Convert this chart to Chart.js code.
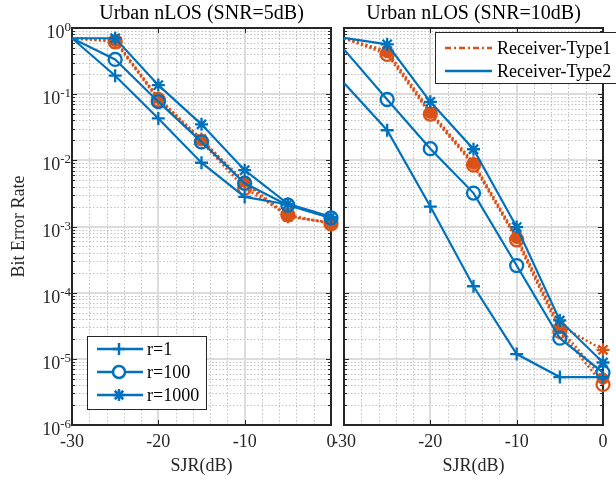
<!DOCTYPE html>
<html>
<head>
<meta charset="utf-8">
<script src="https://cdn.jsdelivr.net/npm/chart.js@4"></script>
<style>
  body { margin: 0; background: #fff; }
  #wrap { position: relative; width: 616px; height: 482px; overflow: hidden; }
  #wrap canvas { position: absolute; top: 0; }
</style>
</head>
<body>
<div id="wrap">
  <canvas id="snr5" width="340" height="482" style="left:0"></canvas>
  <canvas id="snr10" width="296" height="482" style="left:320px"></canvas>
</div>
<script>
// ── data ────────────────────────────────────────────────────────────────────
const sjr = [-30, -25, -20, -15, -10, -5, 0];
const xTickVals = [-30, -20, -10, 0];
const yExponents = [0, -1, -2, -3, -4, -5, -6];
const rLabels = ['r=1', 'r=100', 'r=1000'];
const receiverLabels = ['Receiver-Type1', 'Receiver-Type2'];
const panelTitles = ['Urban nLOS (SNR=5dB)', 'Urban nLOS (SNR=10dB)'];

// SNR = 5 dB
const type2R1Snr5    = [0.70, 0.19,  0.043, 0.0092, 0.0028, 0.00215, 0.00135];
const type2R100Snr5  = [0.70, 0.335, 0.077, 0.019,  0.0045, 0.0021,  0.00135];
const type2R1000Snr5 = [0.70, 0.70,  0.137, 0.035,  0.0071, 0.0022,  0.0014];
const type1R1Snr5    = [0.70, 0.64,  0.088, 0.020,  0.0048, 0.00145, 0.00112];
const type1R100Snr5  = [0.70, 0.62,  0.082, 0.019,  0.0038, 0.0015,  0.0011];
const type1R1000Snr5 = [0.70, 0.66,  0.085, 0.021,  0.0045, 0.0014,  0.00115];

// SNR = 10 dB
const type2R1Snr10    = [0.148, 0.0285, 0.0020, 1.25e-4, 1.18e-5, 5.3e-6, 5.3e-6];
const type2R100Snr10  = [0.475, 0.083,  0.015,  0.0032,  2.57e-4, 2.05e-5, 6.2e-6];
const type2R1000Snr10 = [0.71,  0.566,  0.0765, 0.0147,  9.8e-4,  3.8e-5,  8.8e-6];
const type1R1Snr10    = [0.70,  0.43,   0.052,  0.0089,  6.7e-4,  2.9e-5,  5.0e-6];
const type1R100Snr10  = [0.70,  0.40,   0.050,  0.0085,  6.3e-4,  2.6e-5,  4.1e-6];
const type1R1000Snr10 = [0.70,  0.45,   0.055,  0.0092,  7.0e-4,  3.2e-5,  1.37e-5];

// ── styling ─────────────────────────────────────────────────────────────────
const BLUE = '#0072BD';
const ORANGE = '#D95319';
const INK = '#262626';
const FONT = '"Liberation Serif", "Times New Roman", serif';

function series(values, color, style, filled, dotted) {
    return {
        data: sjr.map((s, i) => ({ x: s, y: values[i] })),
        borderColor: color,
        backgroundColor: color,
        borderWidth: dotted ? 2.5 : 2.2,
        borderDash: dotted ? [2, 2.5] : [],
        pointStyle: style,
        pointRadius: sjr.map((s, i) => i === 0 ? 0 : (style === 'circle' && filled ? 5 : 6.5)),
        pointBorderWidth: 2.3,
        pointBorderColor: color,
        pointBackgroundColor: filled ? color : 'rgba(0,0,0,0)',
        tension: 0,
        clip: false
    };
}

// draws grid, box, ticks, labels, title and legend with the chart's own scales
function framePlugin(opts) {
    return {
        id: 'frame',
        beforeDatasetsDraw(chart) {
            const { ctx, chartArea: a, scales: { x, y } } = chart;
            ctx.save();
            // minor grid (dotted)
            ctx.strokeStyle = '#c2c2c2';
            ctx.lineWidth = 1;
            ctx.setLineDash([1.5, 2]);
            ctx.beginPath();
            for (let e = -6; e < 0; e++) {
                for (let m = 2; m <= 9; m++) {
                    const py = Math.round(y.getPixelForValue(m * Math.pow(10, e))) + 0.5;
                    ctx.moveTo(a.left, py); ctx.lineTo(a.right, py);
                }
            }
            for (let v = -28; v < 0; v += 2) {
                if (v % 10 === 0) continue;
                const px = Math.round(x.getPixelForValue(v)) + 0.5;
                ctx.moveTo(px, a.top); ctx.lineTo(px, a.bottom);
            }
            ctx.stroke();
            // major grid
            ctx.setLineDash([]);
            ctx.strokeStyle = '#dcdcdc';
            ctx.lineWidth = 2;
            ctx.beginPath();
            yExponents.forEach(e => {
                const py = Math.round(y.getPixelForValue(Math.pow(10, e)));
                ctx.moveTo(a.left, py); ctx.lineTo(a.right, py);
            });
            xTickVals.forEach(v => {
                const px = Math.round(x.getPixelForValue(v));
                ctx.moveTo(px, a.top); ctx.lineTo(px, a.bottom);
            });
            ctx.stroke();

            // ticks (inward)
            ctx.strokeStyle = INK;
            ctx.lineWidth = 1;
            ctx.beginPath();
            for (let e = -6; e <= 0; e++) {
                for (let m = 1; m <= 9; m++) {
                    const v = m * Math.pow(10, e);
                    if (v > 1) break;
                    const py = Math.round(y.getPixelForValue(v)) + 0.5;
                    const len = m === 1 ? 5 : 3;
                    ctx.moveTo(a.left, py); ctx.lineTo(a.left + len, py);
                    ctx.moveTo(a.right, py); ctx.lineTo(a.right - len, py);
                }
            }
            xTickVals.forEach(v => {
                const px = Math.round(x.getPixelForValue(v)) + 0.5;
                ctx.moveTo(px, a.bottom); ctx.lineTo(px, a.bottom - 5);
                ctx.moveTo(px, a.top); ctx.lineTo(px, a.top + 5);
            });
            ctx.stroke();

            // box
            ctx.lineWidth = 2;
            ctx.strokeRect(a.left, a.top, a.right - a.left, a.bottom - a.top);

            // text
            ctx.fillStyle = INK;
            ctx.textBaseline = 'alphabetic';
            ctx.textAlign = 'center';
            ctx.font = '18px ' + FONT;
            xTickVals.forEach(v => {
                ctx.fillText(String(v), x.getPixelForValue(v), 447);
            });
            ctx.fillText('SJR(dB)', (a.left + a.right) / 2, 471);

            ctx.fillStyle = '#000';
            ctx.font = '20px ' + FONT;
            ctx.fillText(opts.title, (a.left + a.right) / 2, 19);

            if (opts.yLabels) {
                ctx.fillStyle = INK;
                yExponents.forEach(e => {
                    const py = y.getPixelForValue(Math.pow(10, e));
                    const expText = e === 0 ? '0' : '-' + (-e);
                    ctx.font = '13px ' + FONT;
                    const wExp = ctx.measureText(expText).width;
                    ctx.font = '18px ' + FONT;
                    const wBase = ctx.measureText('10').width;
                    const right = a.left - 1;
                    ctx.textAlign = 'left';
                    ctx.fillText('10', right - wExp - wBase, py + 10);
                    ctx.font = '13px ' + FONT;
                    ctx.fillText(expText, right - wExp, py + 3);
                });
                ctx.save();
                ctx.font = '18px ' + FONT;
                ctx.textAlign = 'center';
                ctx.translate(24, (a.top + a.bottom) / 2);
                ctx.rotate(-Math.PI / 2);
                ctx.fillText('Bit Error Rate', 0, 0);
                ctx.restore();
            }
            ctx.restore();
        },
        afterDraw(chart) {
            const ctx = chart.ctx;
            const lg = opts.legend;
            ctx.save();
            ctx.fillStyle = '#fff';
            ctx.fillRect(lg.x, lg.y, lg.w, lg.h);
            ctx.strokeStyle = INK;
            ctx.lineWidth = 1;
            ctx.strokeRect(lg.x + 0.5, lg.y + 0.5, lg.w, lg.h);
            lg.items.forEach((it, i) => {
                const cy = lg.rows[i];
                ctx.strokeStyle = it.color;
                ctx.lineWidth = 2.5;
                ctx.setLineDash(it.dash || []);
                ctx.beginPath();
                ctx.moveTo(lg.x0, cy); ctx.lineTo(lg.x1, cy);
                ctx.stroke();
                ctx.setLineDash([]);
                if (it.style) {
                    ctx.fillStyle = '#fff';
                    Chart.helpers.drawPoint(ctx, {
                        pointStyle: it.style, radius: 6, rotation: 0, borderWidth: 2.3
                    }, lg.xm, cy);
                }
                ctx.fillStyle = '#000';
                ctx.font = '18px ' + FONT;
                ctx.textAlign = 'left';
                ctx.textBaseline = 'middle';
                ctx.fillText(it.text, lg.xt, cy + 1);
            });
            ctx.restore();
        }
    };
}

function makeChart(id, padding, datasets, opts) {
    return new Chart(document.getElementById(id), {
        type: 'line',
        data: { datasets },
        options: {
            responsive: false,
            animation: false,
            devicePixelRatio: 1,
            layout: { padding },
            plugins: { legend: { display: false }, tooltip: { enabled: false } },
            scales: {
                x: { type: 'linear', min: -30, max: 0, display: false },
                y: { type: 'logarithmic', min: 1e-6, max: 1, display: false }
            }
        },
        plugins: [framePlugin(opts)]
    });
}

// left panel: SNR = 5 dB
makeChart('snr5', { left: 72, right: 9, top: 28, bottom: 57 }, [
    series(type2R1Snr5, BLUE, 'cross', false, false),
    series(type2R100Snr5, BLUE, 'circle', false, false),
    series(type2R1000Snr5, BLUE, 'star', false, false),
    series(type1R1Snr5, ORANGE, 'circle', true, true),
    series(type1R100Snr5, ORANGE, 'circle', false, true),
    series(type1R1000Snr5, ORANGE, 'star', false, true)
], {
    title: panelTitles[0],
    yLabels: true,
    legend: {
        x: 87, y: 336, w: 119, h: 73, rows: [349, 372, 395],
        x0: 97, x1: 143, xm: 119, xt: 147,
        items: [
            { text: rLabels[0], color: BLUE, style: 'cross' },
            { text: rLabels[1], color: BLUE, style: 'circle' },
            { text: rLabels[2], color: BLUE, style: 'star' }
        ]
    }
});

// right panel: SNR = 10 dB
makeChart('snr10', { left: 24, right: 13, top: 28, bottom: 57 }, [
    series(type2R1Snr10, BLUE, 'cross', false, false),
    series(type2R100Snr10, BLUE, 'circle', false, false),
    series(type2R1000Snr10, BLUE, 'star', false, false),
    series(type1R1Snr10, ORANGE, 'circle', true, true),
    series(type1R100Snr10, ORANGE, 'circle', false, true),
    series(type1R1000Snr10, ORANGE, 'star', false, true)
], {
    title: panelTitles[1],
    yLabels: false,
    legend: {
        x: 115, y: 32, w: 200, h: 51, rows: [48, 71],
        x0: 125, x1: 172, xm: null, xt: 177,
        items: [
            { text: receiverLabels[0], color: ORANGE, dash: [6, 3, 2, 3] },
            { text: receiverLabels[1], color: BLUE }
        ]
    }
});
</script>
</body>
</html>
